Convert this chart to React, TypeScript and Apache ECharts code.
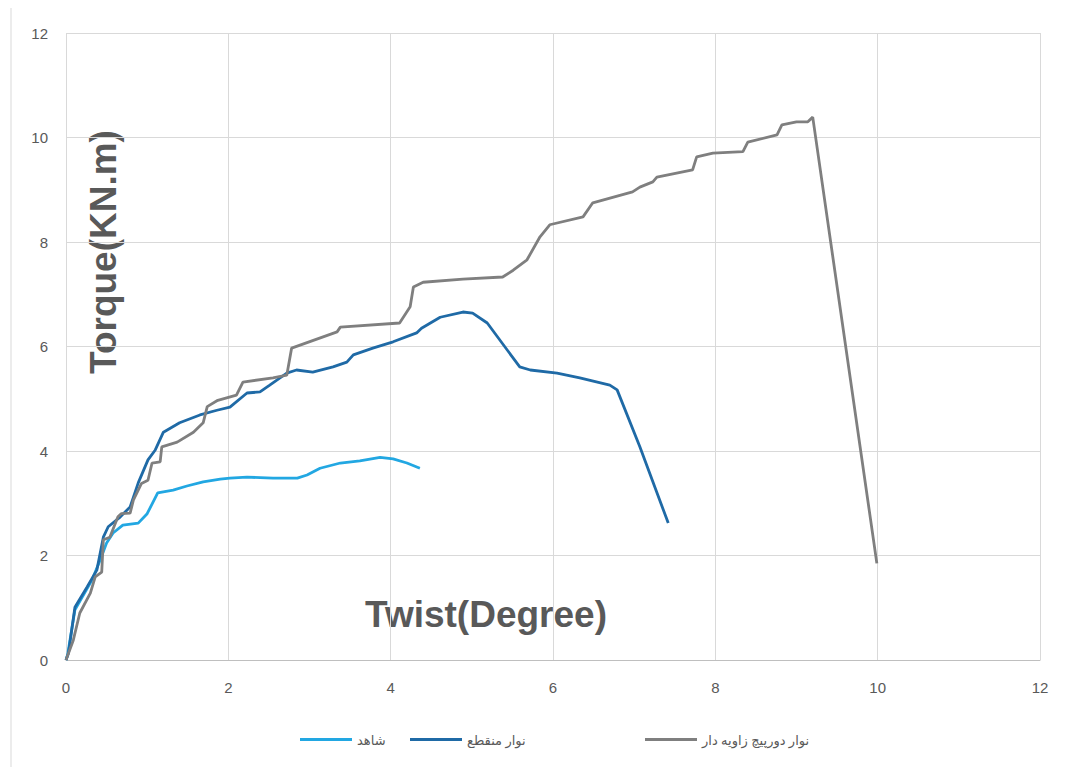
import React, { useEffect, useRef } from "react";
import * as echarts from "echarts";

const xTicks = [0, 2, 4, 6, 8, 10, 12];
const yTicks = [0, 2, 4, 6, 8, 10, 12];

const seriesNames = ["شاهد", "نوار منقطع", "نوار دورپیچ زاویه دار"];

const controlTwist = [0, 0.02, 0.11, 0.32, 0.42, 0.5, 0.58, 0.7, 0.89, 1.0, 1.13, 1.32, 1.49, 1.69, 1.9, 2.02, 2.23, 2.55, 2.85, 2.97, 3.13, 3.38, 3.62, 3.87, 4.03, 4.2, 4.36];
const controlTorque = [0, 0.1, 0.96, 1.53, 1.91, 2.24, 2.43, 2.58, 2.62, 2.8, 3.2, 3.25, 3.33, 3.41, 3.46, 3.48, 3.5, 3.48, 3.48, 3.54, 3.67, 3.77, 3.81, 3.88, 3.85, 3.77, 3.67];

const stripTwist = [0, 0.03, 0.11, 0.26, 0.38, 0.46, 0.52, 0.67, 0.79, 0.89, 1.01, 1.1, 1.2, 1.4, 1.65, 1.86, 2.02, 2.23, 2.39, 2.51, 2.72, 2.84, 3.04, 3.29, 3.46, 3.54, 3.78, 4.03, 4.32, 4.38, 4.61, 4.89, 5.01, 5.19, 5.59, 5.72, 6.05, 6.33, 6.7, 6.79, 7.07, 7.42];
const stripTorque = [0, 0.13, 1.01, 1.4, 1.72, 2.35, 2.55, 2.74, 2.93, 3.39, 3.83, 4.02, 4.36, 4.54, 4.69, 4.78, 4.84, 5.11, 5.13, 5.26, 5.49, 5.55, 5.51, 5.61, 5.7, 5.84, 5.97, 6.09, 6.26, 6.35, 6.56, 6.66, 6.64, 6.45, 5.61, 5.55, 5.49, 5.4, 5.26, 5.17, 4.08, 2.62];

const spiralTwist = [0, 0.09, 0.17, 0.3, 0.36, 0.44, 0.46, 0.54, 0.64, 0.68, 0.79, 0.83, 0.93, 1.01, 1.06, 1.16, 1.18, 1.37, 1.57, 1.69, 1.74, 1.87, 2.1, 2.18, 2.55, 2.72, 2.78, 3.34, 3.38, 4.11, 4.24, 4.28, 4.4, 4.89, 5.38, 5.51, 5.68, 5.84, 5.96, 6.37, 6.49, 6.98, 7.07, 7.23, 7.28, 7.72, 7.77, 7.97, 8.34, 8.4, 8.76, 8.82, 9.0, 9.14, 9.2, 9.99];
const spiralTorque = [0, 0.38, 0.9, 1.28, 1.59, 1.68, 2.3, 2.35, 2.74, 2.8, 2.81, 3.06, 3.38, 3.44, 3.77, 3.79, 4.08, 4.17, 4.36, 4.54, 4.85, 4.97, 5.07, 5.32, 5.4, 5.45, 5.97, 6.28, 6.37, 6.45, 6.76, 7.14, 7.23, 7.29, 7.33, 7.46, 7.66, 8.1, 8.33, 8.48, 8.75, 8.96, 9.05, 9.15, 9.24, 9.38, 9.63, 9.7, 9.73, 9.91, 10.05, 10.24, 10.3, 10.3, 10.39, 1.85];

const colors = ["#22A7E2", "#1F6AA6", "#7F7F7F"];

const pairs = (xs: number[], ys: number[]) => xs.map((x, i) => [x, ys[i]]);

export default function App() {
  const ref = useRef<HTMLDivElement>(null);
  useEffect(() => {
    if (!ref.current) return;
    const chart = echarts.init(ref.current, null, { renderer: "svg" });
    const labelFont = "'Liberation Sans Narrow', 'Liberation Sans', Arial, sans-serif";
    const mkSeries = (i: number, xs: number[], ys: number[]) => ({
      name: seriesNames[i],
      type: "line",
      data: pairs(xs, ys),
      showSymbol: false,
      symbol: "none",
      lineStyle: { color: colors[i], width: 2.8 },
      itemStyle: { color: colors[i] },
    });
    const legendCommon = {
      top: 728,
      itemWidth: 52,
      itemHeight: 3,
      icon: "rect",
      textStyle: { color: "#595959", fontSize: 13, fontFamily: "'Noto Sans', 'DejaVu Sans', sans-serif" },
    };
    chart.setOption({
      animation: false,
      backgroundColor: "#ffffff",
      grid: { left: 66, right: 25, top: 33, bottom: 107, containLabel: false },
      xAxis: {
        type: "value",
        min: xTicks[0],
        max: xTicks[xTicks.length - 1],
        interval: 2,
        axisLine: { show: true, lineStyle: { color: "#BFBFBF", width: 1 } },
        axisTick: { show: false },
        splitLine: { show: true, lineStyle: { color: "#D9D9D9", width: 1 } },
        axisLabel: { color: "#595959", fontSize: 15, margin: 20, fontFamily: labelFont },
      },
      yAxis: {
        type: "value",
        min: yTicks[0],
        max: yTicks[yTicks.length - 1],
        interval: 2,
        axisLine: { show: false },
        axisTick: { show: false },
        splitLine: { show: true, lineStyle: { color: "#D9D9D9", width: 1 } },
        axisLabel: { color: "#595959", fontSize: 15, margin: 18, fontFamily: labelFont },
      },
      legend: [
        { ...legendCommon, left: 295, data: [seriesNames[0]] },
        { ...legendCommon, left: 405, data: [seriesNames[1]] },
        { ...legendCommon, left: 640, data: [seriesNames[2]] },
      ],
      graphic: [
        {
          type: "line",
          shape: { x1: 11, y1: 8, x2: 11, y2: 767 },
          style: { stroke: "#D9D9D9", lineWidth: 1 },
        },
        {
          type: "text",
          x: 103,
          y: 252,
          rotation: Math.PI / 2,
          style: {
            text: "Torque(KN.m)",
            font: "bold 37px 'Liberation Sans', Arial, sans-serif",
            fill: "#595959",
            align: "center",
            verticalAlign: "middle",
          },
        },
        {
          type: "text",
          x: 486,
          y: 614,
          style: {
            text: "Twist(Degree)",
            font: "bold 37px 'Liberation Sans', Arial, sans-serif",
            fill: "#595959",
            align: "center",
            verticalAlign: "middle",
          },
        },
      ],
      series: [
        mkSeries(0, controlTwist, controlTorque),
        mkSeries(1, stripTwist, stripTorque),
        mkSeries(2, spiralTwist, spiralTorque),
      ],
    });
    return () => chart.dispose();
  }, []);
  return (
    <div
      ref={ref}
      style={{ position: "absolute", left: 0, top: 0, width: 1065, height: 767 }}
    />
  );
}
